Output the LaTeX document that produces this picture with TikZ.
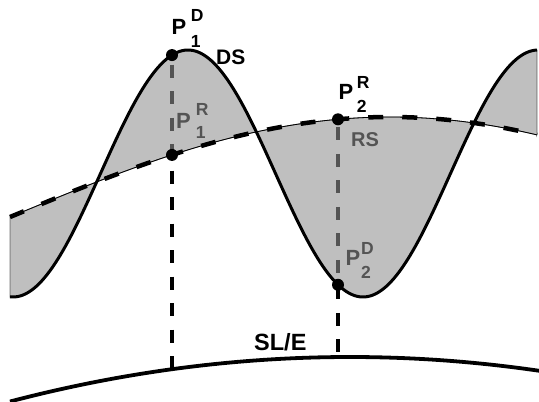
\documentclass[tikz,border=0pt]{standalone}
\usepackage{fontspec}
\setmainfont{Liberation Sans}
\newcommand{\plab}[5]{\fontsize{22}{22}\selectfont P\hspace{#1pt}\rlap{\raisebox{#2pt}{\fontsize{17.5}{17.5}\selectfont #4}}\raisebox{-#3pt}{\fontsize{17.5}{17.5}\selectfont #5}}
\definecolor{fillgray}{gray}{0.57}
\begin{document}
\begin{tikzpicture}[x=1pt,y=-1pt,
  declare function={ds(\x)=173.5-123.5*cos((\x-188)*1.028571);
                    rs(\x)=217-100*cos((\x-390)*0.236842);
                    sl(\x)=357+((\x-350)*0.019621)^2;},
  vdash/.style={line width=3.6pt, black, dash pattern=on 13pt off 13.5pt},
  dot/.style={circle, fill=black, inner sep=0pt, minimum size=12pt},
  lbl/.style={anchor=base west, inner sep=0pt, font=\bfseries},
  dscurve/.style={line width=3pt, black},
  rsthin/.style={line width=0.8pt, black},
  rsdash/.style={line width=4.5pt, black, dash pattern=on 15pt off 19pt},
  ground/.style={line width=3.8pt, black}]
\useasboundingbox (0,0) rectangle (539,402);
\coordinate (p1d) at (172,{ds(172)});
\coordinate (p1r) at (172,{rs(172)});
\coordinate (p1b) at (172,{sl(172)});
\coordinate (p2r) at (338,{rs(338)});
\coordinate (p2d) at (338,{ds(338)});
\coordinate (p2b) at (338,{sl(338)});
% dashed verticals and labels lying under the shaded band
\draw[vdash, dash phase=17pt] (p1d) -- (p1b);
\draw[vdash, dash phase=18.5pt] (p2r) -- (p2b);
\node[lbl] (l1r) at (176,128) {\plab{5}{13}{10.5}{R}{1}};
\node[lbl, font=\bfseries\fontsize{20}{20}\selectfont] (lrs) at (351,146) {RS};
\node[lbl] (l2d) at (345.3,265) {\plab{1}{10.5}{13}{D}{2}};
% shaded band between the two curves
\path[fill=fillgray, fill opacity=0.58, draw=black, draw opacity=0.55, line width=0.8pt]
  plot[domain=10:537, samples=160] (\x,{ds(\x)})
  -- plot[domain=537:10, samples=160] (\x,{rs(\x)}) -- cycle;
% curves
\draw[dscurve] plot[domain=10:537, samples=200] (\x,{ds(\x)});
\draw[rsthin] plot[domain=10:537, samples=160] (\x,{rs(\x)});
\draw[rsdash] plot[domain=10:537, samples=160] (\x,{rs(\x)});
\draw[ground] plot[domain=10:541, samples=120] (\x,{sl(\x)});
% points
\node[dot] (d1) at (p1d) {};
\node[dot] (d2) at (p1r) {};
\node[dot] (d3) at (p2r) {};
\node[dot] (d4) at (p2d) {};
% labels above the band
\node[lbl] (l1d) at (171.4,34) {\plab{4.7}{12.5}{13.5}{D}{1}};
\node[lbl, font=\bfseries\fontsize{21}{21}\selectfont] (lds) at (216,64) {DS};
\node[lbl] (l2r) at (338.4,99) {\plab{3.7}{11}{13}{R}{2}};
\node[lbl, font=\bfseries\fontsize{23.5}{23.5}\selectfont] (lsl) at (254,350) {SL/E};
\end{tikzpicture}
\end{document}
